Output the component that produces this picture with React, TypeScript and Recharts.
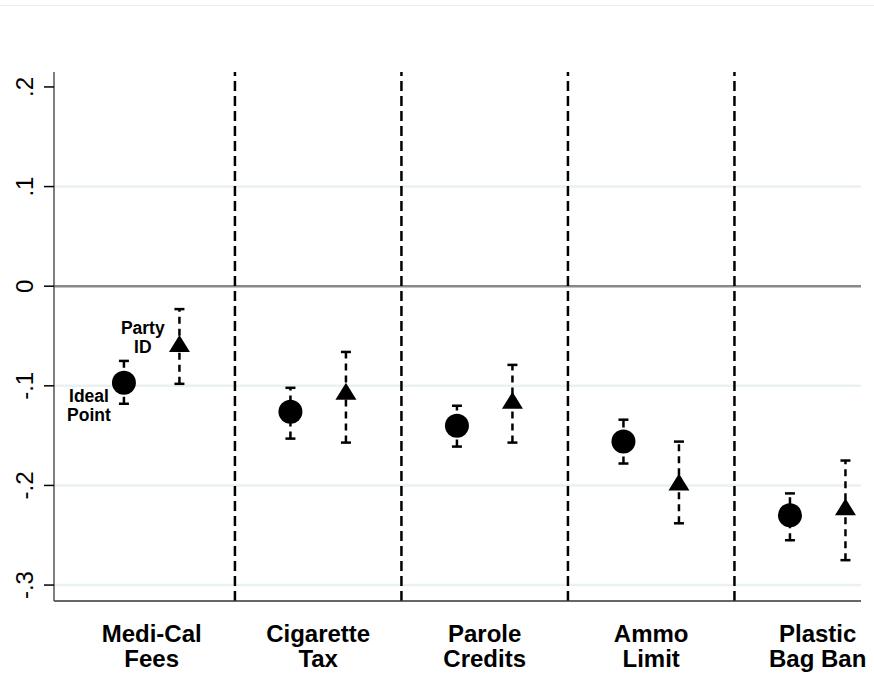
import React from "react";
import {
  ComposedChart,
  Scatter,
  ErrorBar,
  XAxis,
  YAxis,
  ReferenceLine,
} from "recharts";

const categories = [
  ["Medi-Cal", "Fees"],
  ["Cigarette", "Tax"],
  ["Parole", "Credits"],
  ["Ammo", "Limit"],
  ["Plastic", "Bag Ban"],
];
const categoryPos = [1.5, 4.5, 7.5, 10.5, 13.5];
const dividers = [3, 6, 9, 12];

// ideal point estimates (circles)
const idealX = [1, 4, 7, 10, 13];
const idealY = [-0.097, -0.126, -0.14, -0.156, -0.23];
const idealLo = [-0.118, -0.153, -0.161, -0.178, -0.255];
const idealHi = [-0.075, -0.102, -0.12, -0.134, -0.208];

// party ID estimates (triangles)
const partyX = [2, 5, 8, 11, 14];
const partyY = [-0.058, -0.106, -0.115, -0.197, -0.222];
const partyLo = [-0.098, -0.157, -0.157, -0.238, -0.275];
const partyHi = [-0.023, -0.066, -0.079, -0.156, -0.175];

const yTicks = [-0.3, -0.2, -0.1, 0, 0.1, 0.2];
const gridY = [0.1, -0.1, -0.2, -0.3];

const notes = [
  { x: 1.34, y: -0.048, lines: ["Party", "ID"] },
  { x: 0.37, y: -0.116, lines: ["Ideal", "Point"] },
];

const build = (xs: number[], ys: number[], lo: number[], hi: number[]) =>
  xs.map((x, i) => ({
    x,
    y: ys[i],
    lo: lo[i],
    hi: hi[i],
    err: [ys[i] - lo[i], hi[i] - ys[i]],
  }));

const idealData = build(idealX, idealY, idealLo, idealHi);
const partyData = build(partyX, partyY, partyLo, partyHi);

const FONT = "'Liberation Sans', Arial, Helvetica, sans-serif";

const fmt = (v: number) => {
  if (v === 0) return "0";
  const s = Math.abs(v).toFixed(1).replace(/^0/, "");
  return v < 0 ? "-" + s : s;
};

const Dot = (p: any) => <circle cx={p.cx} cy={p.cy} r={12} fill="#000" />;

const Tri = (p: any) => (
  <path
    d={`M${p.cx},${p.cy - 9} L${p.cx + 10.5},${p.cy + 8} L${p.cx - 10.5},${p.cy + 8} Z`}
    fill="#000"
  />
);

const Cap = (p: any) => (
  <line x1={p.cx - 5} x2={p.cx + 5} y1={p.cy} y2={p.cy} stroke="#000" strokeWidth={2.5} />
);

const Note = (p: any) => (
  <text
    x={p.cx}
    y={p.cy}
    textAnchor="middle"
    fontFamily={FONT}
    fontWeight="bold"
    fontSize={17.5}
    fill="#000"
  >
    {p.payload.lines.map((t: string, i: number) => (
      <tspan key={i} x={p.cx} dy={i === 0 ? 0 : 19}>
        {t}
      </tspan>
    ))}
  </text>
);

const YTick = (p: any) => (
  <text
    x={p.x - 11}
    y={p.y}
    textAnchor="middle"
    transform={`rotate(-90, ${p.x - 11}, ${p.y})`}
    fontFamily={FONT}
    fontSize={24}
    fill="#000"
  >
    {fmt(p.payload.value)}
  </text>
);

const XTick = (p: any) => {
  const idx = categoryPos.indexOf(p.payload.value);
  const lines = categories[idx] || [];
  return (
    <text
      x={p.x}
      y={p.y + 41}
      textAnchor="middle"
      fontFamily={FONT}
      fontWeight="bold"
      fontSize={24}
      fill="#000"
    >
      {lines.map((t, i) => (
        <tspan key={i} x={p.x} dy={i === 0 ? 0 : 25}>
          {t}
        </tspan>
      ))}
    </text>
  );
};

export default function App() {
  return (
    <div style={{ position: "relative", width: 874, height: 673, background: "#fff" }}>
      <style>{`body{margin:0}`}</style>
      <div
        style={{
          position: "absolute",
          top: 5,
          left: 0,
          width: 874,
          height: 1,
          background: "#ececec",
        }}
      />
      <ComposedChart
        width={874}
        height={673}
        margin={{ top: 72, right: 13, bottom: 0, left: 0 }}
      >
        <XAxis
          type="number"
          dataKey="x"
          domain={[-0.26, 14.28]}
          ticks={categoryPos}
          tick={<XTick />}
          tickLine={false}
          tickSize={0}
          tickMargin={0}
          height={72}
          axisLine={{ stroke: "#333", strokeWidth: 1.5 }}
          allowDataOverflow
          interval={0}
        />
        <YAxis
          type="number"
          domain={[-0.316, 0.215]}
          ticks={yTicks}
          tick={<YTick />}
          width={54}
          tickSize={10}
          tickMargin={0}
          tickLine={{ stroke: "#000", strokeWidth: 1.5 }}
          axisLine={{ stroke: "#555", strokeWidth: 1.5 }}
          allowDataOverflow
          interval={0}
        />
        {gridY.map((v) => (
          <ReferenceLine key={v} y={v} stroke="#e9f1f3" strokeWidth={2.5} />
        ))}
        <ReferenceLine y={0} stroke="#888" strokeWidth={2.5} />
        {dividers.map((v) => (
          <ReferenceLine
            key={v}
            x={v}
            stroke="#000"
            strokeWidth={2.5}
            strokeDasharray="10 5"
          />
        ))}
        <Scatter data={idealData} dataKey="y" shape={<Dot />} isAnimationActive={false}>
          <ErrorBar
            dataKey="err"
            direction="y"
            width={0}
            stroke="#000"
            strokeWidth={2.5}
            strokeDasharray="7 5"
          />
        </Scatter>
        <Scatter data={partyData} dataKey="y" shape={<Tri />} isAnimationActive={false}>
          <ErrorBar
            dataKey="err"
            direction="y"
            width={0}
            stroke="#000"
            strokeWidth={2.5}
            strokeDasharray="7 5"
          />
        </Scatter>
        <Scatter data={idealData} dataKey="lo" shape={<Cap />} isAnimationActive={false} />
        <Scatter data={idealData} dataKey="hi" shape={<Cap />} isAnimationActive={false} />
        <Scatter data={partyData} dataKey="lo" shape={<Cap />} isAnimationActive={false} />
        <Scatter data={partyData} dataKey="hi" shape={<Cap />} isAnimationActive={false} />
        <Scatter data={notes} dataKey="y" shape={<Note />} isAnimationActive={false} />
      </ComposedChart>
    </div>
  );
}
